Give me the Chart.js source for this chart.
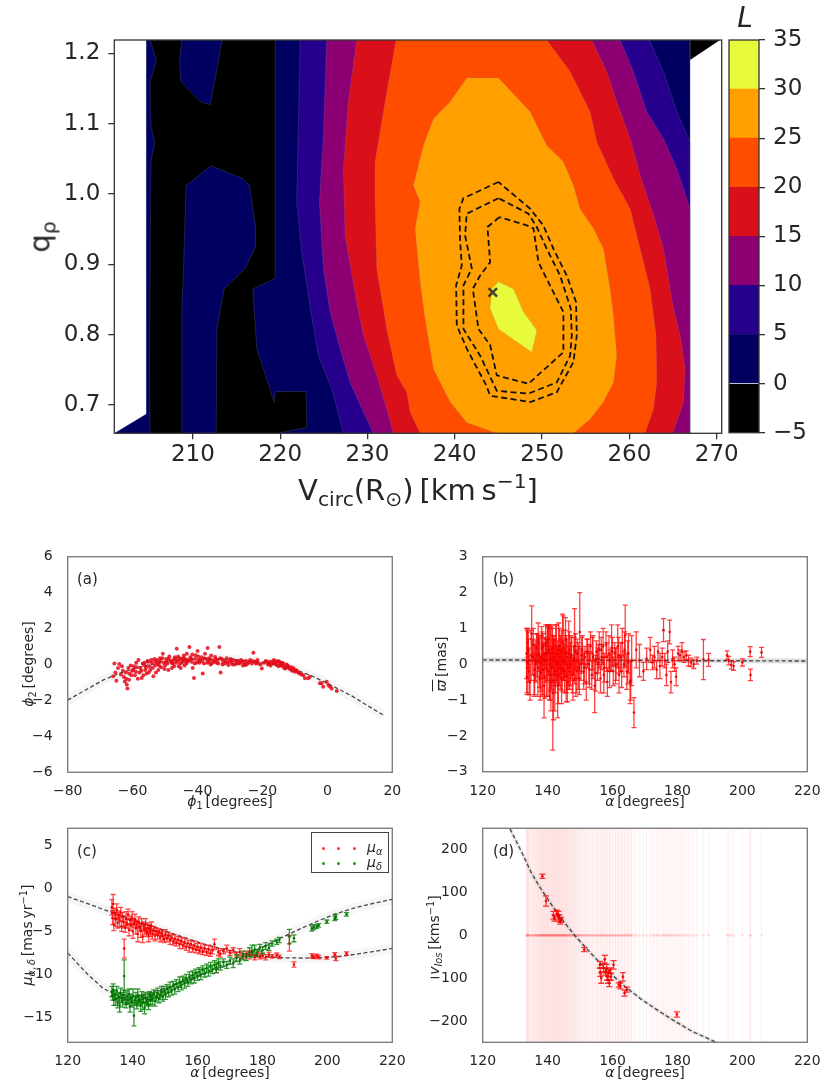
<!DOCTYPE html>
<html>
<head>
<meta charset="utf-8">
<script src="https://cdn.jsdelivr.net/npm/chart.js@4.4.0/dist/chart.umd.min.js"></script>
<style>
body { margin: 0; background: #fff; }
#page { position: relative; width: 821px; height: 1084px; font-family: "DejaVu Sans", sans-serif; color: #262626; overflow: hidden; }
canvas { position: absolute; }
.lbl { position: absolute; white-space: nowrap; line-height: 1; transform: translate(-50%, -50%); }
.rot { transform: translate(-50%, -50%) rotate(-90deg); }
.lbl sub { font-size: 0.7em; vertical-align: -0.3em; line-height: 0; }
.lbl sup { font-size: 0.7em; vertical-align: 0.55em; line-height: 0; }
.tag { position: absolute; font-size: 15px; line-height: 1; }
#legC { position: absolute; left: 311px; top: 832px; width: 78px; height: 41px; border: 1.3px solid #444; box-sizing: border-box; background: #fff; }
#legC .dot { position: absolute; width: 3px; height: 3px; border-radius: 50%; }
#legC .txt { position: absolute; left: 55px; font-size: 14px; line-height: 1; }
</style>
</head>
<body>
<div id="page">
  <canvas id="top" width="821" height="475" style="left:0;top:0"></canvas>
  <canvas id="cbar" width="106" height="475" style="left:715px;top:0"></canvas>
  <canvas id="pa" width="405" height="290" style="left:0;top:520px"></canvas>
  <canvas id="pb" width="401" height="290" style="left:420px;top:520px"></canvas>
  <canvas id="pc" width="405" height="284" style="left:0;top:800px"></canvas>
  <canvas id="pd" width="401" height="284" style="left:420px;top:800px"></canvas>

  <div class="lbl" style="left:745px;top:18px;font-size:28px;font-style:italic">L</div>
  <div class="lbl" style="left:418px;top:490px;font-size:29px">V<sub>circ</sub>(R<sub>⊙</sub>)&#8201;[km&#8201;s<sup>−1</sup>]</div>
  <div class="lbl rot" style="left:40px;top:237px;font-size:29px">q<sub>ρ</sub></div>

  <div class="tag" style="left:77px;top:572px">(a)</div>
  <div class="tag" style="left:493px;top:572px">(b)</div>
  <div class="tag" style="left:77px;top:844px">(c)</div>
  <div class="tag" style="left:493px;top:844px">(d)</div>

  <div class="lbl" style="left:230px;top:801px;font-size:14px"><i>ϕ</i><sub>1</sub>&#8201;[degrees]</div>
  <div class="lbl rot" style="left:28px;top:664px;font-size:14px"><i>ϕ</i><sub>2</sub>&#8201;[degrees]</div>
  <div class="lbl" style="left:645px;top:801px;font-size:14px"><i>α</i>&#8201;[degrees]</div>
  <div class="lbl rot" style="left:441px;top:664px;font-size:14px"><span style="text-decoration:overline"><i>ϖ</i></span>&#8201;[mas]</div>
  <div class="lbl" style="left:230px;top:1072px;font-size:14px"><i>α</i>&#8201;[degrees]</div>
  <div class="lbl rot" style="left:27px;top:935px;font-size:14px"><i>μ</i><sub><i>α</i>,&#8201;<i>δ</i></sub>&#8201;[mas&#8201;yr<sup>−1</sup>]</div>
  <div class="lbl" style="left:645px;top:1072px;font-size:14px"><i>α</i>&#8201;[degrees]</div>
  <div class="lbl rot" style="left:434px;top:935px;font-size:14px"><i>v</i><sub><i>los</i></sub>&#8201;[kms<sup>−1</sup>]</div>

  <div id="legC">
    <span class="dot" style="left:10px;top:14px;background:#f33"></span>
    <span class="dot" style="left:25px;top:14px;background:#f33"></span>
    <span class="dot" style="left:41px;top:14px;background:#f33"></span>
    <span class="txt" style="top:7px"><i>μ</i><sub style="font-size:0.7em;vertical-align:-0.3em"><i>α</i></sub></span>
    <span class="dot" style="left:10px;top:29px;background:#1a941a"></span>
    <span class="dot" style="left:25px;top:29px;background:#1a941a"></span>
    <span class="dot" style="left:41px;top:29px;background:#1a941a"></span>
    <span class="txt" style="top:22px"><i>μ</i><sub style="font-size:0.7em;vertical-align:-0.3em"><i>δ</i></sub></span>
  </div>
</div>

<script>
// ---- top panel: likelihood L over (Vcirc, q_rho), contour regions in data units
const levels = [-5, 0, 5, 10, 15, 20, 25, 30, 35];
const levelColors = ['#000000', '#000060', '#26008c', '#8c0073', '#d90f1a', '#ff4d00', '#ffa000', '#e8fa3c'];

const regionData = [[201.0, 0.6596], [204.65, 0.687], [204.65, 1.219], [266.95, 1.219], [266.95, 0.6596]];
const regionBlack = [[205.11, 1.219], [219.42, 1.219], [219.42, 0.880], [216.87, 0.865], [217.32, 0.780], [219.31, 0.704],
  [219.42, 0.719], [222.97, 0.719], [223.05, 0.668], [219.61, 0.6596], [205.11, 0.6596], [205.03, 0.751], [205.19, 1.046],
  [205.61, 1.072], [205.19, 1.098], [205.11, 1.160], [205.80, 1.190]];
const regionBlackCorner = [[266.95, 1.219], [266.95, 1.1905], [270.38, 1.219]];
const islandTop = [[208.74, 1.219], [208.47, 1.190], [208.62, 1.160], [210.91, 1.131], [211.98, 1.127], [212.82, 1.181], [213.32, 1.219]];
const islandMid = [[209.23, 1.012], [212.06, 1.040], [215.72, 1.022], [216.48, 1.012], [217.17, 0.953], [217.17, 0.925], [215.99, 0.894],
  [213.58, 0.865], [212.74, 0.808], [212.67, 0.6596], [208.74, 0.6596], [208.74, 0.837], [208.93, 0.894]];
const regionL5 = [[222.29, 1.219], [222.09, 1.098], [221.90, 0.989], [222.48, 0.917], [223.35, 0.846], [224.38, 0.770], [225.91, 0.723],
  [227.25, 0.6596], [266.95, 0.6596], [266.95, 1.074], [265.42, 1.117], [263.89, 1.174], [262.29, 1.219]];
const regionL10 = [[225.34, 1.219], [224.96, 1.084], [224.50, 0.989], [224.96, 0.894], [225.72, 0.832], [226.87, 0.780], [228.01, 0.732],
  [229.54, 0.690], [230.68, 0.6596], [266.95, 0.6596], [266.95, 0.979], [265.42, 1.036], [263.89, 1.079], [261.98, 1.117],
  [260.46, 1.174], [258.93, 1.219]];
const regionL15 = [[228.77, 1.219], [227.82, 1.131], [227.25, 1.036], [227.44, 0.941], [228.77, 0.846], [229.54, 0.799], [231.06, 0.742],
  [232.21, 0.694], [232.97, 0.6596], [264.96, 0.6596], [266.18, 0.704], [266.37, 0.751], [265.80, 0.799], [265.04, 0.837],
  [263.89, 0.922], [262.75, 0.970], [261.22, 1.027], [260.08, 1.079], [258.55, 1.131], [257.40, 1.174], [255.69, 1.219]];
const regionL20 = [[233.28, 1.219], [232.02, 1.131], [230.87, 1.046], [230.87, 0.989], [231.06, 0.894], [232.21, 0.808], [233.35, 0.742],
  [234.50, 0.718], [234.88, 0.690], [236.03, 0.6596], [261.79, 0.6596], [262.75, 0.694], [263.13, 0.732], [263.05, 0.799],
  [262.37, 0.865], [261.22, 0.922], [260.08, 0.979], [258.17, 1.022], [256.26, 1.074], [255.50, 1.117], [253.21, 1.174], [250.53, 1.219]];
const regionL25 = [[241.37, 1.165], [245.00, 1.165], [248.63, 1.117], [250.53, 1.069], [252.44, 1.046], [253.59, 1.012], [254.35, 0.979],
  [255.88, 0.951], [257.02, 0.922], [257.79, 0.865], [258.17, 0.827], [258.55, 0.770], [258.17, 0.732], [257.02, 0.704],
  [255.50, 0.680], [253.59, 0.6596], [244.81, 0.6596], [241.37, 0.675], [239.47, 0.704], [237.56, 0.751], [236.60, 0.823],
  [236.03, 0.875], [235.46, 0.951], [236.03, 0.989], [235.27, 1.012], [236.41, 1.069], [237.56, 1.107], [239.47, 1.131]];
const regionL30 = [[245.00, 0.875], [246.72, 0.865], [247.86, 0.832], [249.39, 0.806], [248.82, 0.775], [245.00, 0.808], [244.05, 0.837], [244.24, 0.865]];

const contourOuter = [[245.00, 1.017], [240.99, 0.994], [240.53, 0.979], [240.61, 0.932], [240.80, 0.898], [240.15, 0.870], [240.23, 0.813],
  [241.37, 0.780], [243.59, 0.728], [244.05, 0.713], [248.63, 0.704], [251.68, 0.718], [253.59, 0.761], [253.97, 0.799],
  [253.89, 0.846], [252.82, 0.884], [251.30, 0.922], [250.15, 0.955], [248.63, 0.979], [245.00, 1.017]];
const contourMiddle = [[245.00, 0.994], [241.37, 0.972], [241.18, 0.941], [241.95, 0.894], [240.99, 0.870], [240.99, 0.808], [242.90, 0.770],
  [244.81, 0.720], [248.43, 0.716], [251.68, 0.732], [253.21, 0.770], [253.40, 0.799], [253.28, 0.837], [252.06, 0.884],
  [250.53, 0.922], [249.39, 0.953], [248.43, 0.972], [245.00, 0.994]];
const contourInner = [[245.11, 0.967], [243.74, 0.953], [244.05, 0.903], [242.90, 0.884], [242.06, 0.865], [242.71, 0.808], [244.05, 0.785],
  [244.81, 0.742], [248.43, 0.730], [252.44, 0.775], [252.44, 0.832], [251.30, 0.860], [250.34, 0.884], [249.58, 0.903],
  [249.01, 0.951], [248.32, 0.955], [245.11, 0.967]];
const bestFit = [244.35, 0.86];

const topXTicks = [210, 220, 230, 240, 250, 260, 270];
const topYTicks = [0.7, 0.8, 0.9, 1.0, 1.1, 1.2];

// ---- (a) stream track
const aPhi1 = [-66.0,-65.6,-65.3,-65.0,-64.5,-64.1,-63.6,-63.0,-62.7,-62.4,-62.0,-61.8,-61.6,-61.3,-61.0,-60.6,-60.2,-59.8,-59.3,-58.9,
  -58.7,-58.2,-57.9,-57.6,-57.2,-56.9,-56.5,-56.1,-55.7,-55.4,-55.2,-54.8,-54.6,-54.1,-53.6,-53.3,-53.1,-52.6,-52.3,-52.1,
  -51.8,-51.6,-51.2,-50.7,-50.4,-50.0,-49.7,-49.5,-49.0,-48.7,-48.3,-47.9,-47.6,-47.4,-47.0,-46.6,-46.4,-46.0,-45.8,-45.4,
  -45.0,-44.6,-44.4,-44.0,-43.6,-43.3,-43.0,-42.5,-42.2,-41.8,-41.5,-41.1,-40.8,-40.6,-40.3,-40.0,-39.6,-39.2,-38.8,-38.4,
  -38.0,-37.7,-37.3,-36.9,-36.6,-36.4,-36.0,-35.6,-35.2,-34.6,-34.2,-33.8,-33.3,-32.9,-32.5,-32.1,-31.6,-31.0,-30.5,-30.1,
  -29.5,-29.0,-28.5,-28.0,-27.5,-27.0,-26.4,-26.0,-25.4,-25.0,-24.4,-23.8,-23.3,-22.8,-22.4,-21.8,-21.2,-20.6,-20.2,-19.5,
  -18.7,-18.0,-17.5,-17.2,-16.8,-16.4,-16.0,-15.6,-15.2,-14.8,-14.4,-14.0,-13.8,-13.4,-13.1,-12.6,-12.0,-11.5,-11.0,-10.5,
  -10.0,-9.4,-8.6,-8.0,-6.9,-5.9,-5.4,-2.3,-1.8,-1.3,-0.2,0.3,0.8,1.3,2.9,
  -63.3,-62.1,-61.1,-60.4,-59.6,-59.0,-58.4,-57.3,-56.7,-56.3,-55.9,-55.0,-54.3,-53.8,-53.0,-52.8,-51.9,-51.4,-50.9,-50.2,
  -49.3,-48.9,-48.0,-47.2,-46.8,-46.2,-45.6,-45.2,-44.8,-44.2,-43.8,-43.4,-42.8,-42.0,-41.6,-40.9,-39.8,-39.4,-38.6,-37.9,
  -37.0,-36.2,-35.8,-34.9,-34.4,-33.6,-33.0,-32.3,-31.3,-30.8,-29.8,-29.2,-28.2,-27.2,-26.6,-25.7,-24.8,-24.0,-23.0,-22.0,
  -21.5,-19.0,-18.3,-17.8,-16.6,-15.8,-15.0,-14.6,-14.2,-13.6,-12.8,-12.3,-11.8,-11.2,-10.8,-9.8,-9.0,-7.4];
const aPhi2 = [-0.65,0.05,-0.45,-0.9,-0.2,0.03,-0.55,-0.35,-0.7,-0.95,-0.8,-1.12,-1.33,-0.2,-0.5,-0.05,-0.35,-0.3,-0.6,0.1,
  -0.15,0.25,-0.45,-0.2,-0.75,0.05,-0.03,-0.3,-0.5,0.2,0.15,-0.1,-0.3,0.1,-0.65,0.3,-0.05,0.25,0.05,-0.3,
  0.15,0.35,-0.15,0.6,0.1,-0.05,0.3,0.15,-0.3,0.45,0.2,-0.2,0.05,0.25,0.4,0.1,0.88,0.45,-0.1,0.05,
  0.3,0.2,0.35,-0.05,0.15,0.6,0.25,0.98,0.4,0.15,-0.2,-0.75,0.3,0.52,0.1,0.75,0.2,0.25,0.4,-0.5,
  0.05,0.6,0.3,0.92,0.15,0.35,0.0,0.05,0.2,0.42,0.1,0.25,0.98,-0.45,0.3,0.15,0.05,0.35,-0.03,0.2,
  0.1,0.25,0.0,0.05,0.2,0.1,0.15,-0.05,-0.03,0.2,0.1,0.25,0.05,0.66,0.15,0.15,0.05,0.0,-0.22,0.1,
  0.15,0.05,-0.05,0.05,0.2,0.25,0.1,-0.03,0.2,0.15,0.0,0.1,-0.03,-0.15,-0.22,0.0,-0.12,-0.25,-0.31,-0.2,
  -0.4,-0.35,-0.49,-0.55,-0.77,-0.77,-0.68,-1.05,-1.05,-1.24,-0.96,-1.14,-1.23,-1.33,-1.48,
  -0.1,-0.45,-0.85,-0.6,-0.1,-0.4,-0.8,-0.35,-0.6,0.1,-0.15,-0.45,0.25,-0.2,0.15,-0.45,-0.05,0.2,0.35,-0.25,
  0.05,0.3,0.1,-0.1,0.3,0.2,0.35,-0.2,0.1,0.5,0.3,0.05,0.2,0.3,0.55,0.05,0.45,0.1,0.2,0.35,
  0.1,0.25,0.5,0.15,0.3,0.05,0.35,0.0,0.2,0.1,0.3,0.0,0.2,0.05,0.25,0.1,0.0,0.15,0.2,0.05,
  0.25,0.2,0.0,0.15,0.05,0.15,-0.1,0.1,-0.05,0.05,-0.2,-0.05,-0.2,-0.15,-0.35,-0.3,-0.45,-0.6];
const aModelX = [-80, -74, -69, -64, -60, -55, -50, -45, -40, -35, -30, -25, -20, -15, -12.5, -10, -5, 0, 4, 8, 12, 17.2];
const aModelY = [-1.98, -1.37, -0.86, -0.49, -0.25, -0.02, 0.13, 0.24, 0.30, 0.31, 0.28, 0.22, 0.10, -0.05, -0.14, -0.28, -0.62, -1.05, -1.42, -1.8, -2.25, -2.81];

// ---- (b) parallax
const bAlpha = [133.5,133.7,134.0,134.3,135.1,135.4,135.8,136.2,136.6,137.0,137.3,137.7,138.0,138.3,138.6,138.9,139.2,139.5,139.9,140.1,
  140.4,140.7,141.0,141.3,141.6,141.9,142.2,142.5,142.8,143.1,143.4,143.7,144.0,144.3,144.6,144.9,145.2,145.5,145.8,146.1,
  146.5,146.8,147.2,147.6,148.0,148.3,148.7,149.1,149.5,149.9,150.3,150.7,151.1,151.5,151.9,152.3,152.7,153.2,153.6,154.0,
  154.5,155.0,155.4,155.9,156.3,156.7,157.1,157.5,158.0,158.4,158.9,159.3,159.7,160.2,160.7,161.1,161.6,162.0,162.5,163.0,
  163.5,163.9,164.4,164.9,165.4,165.9,166.6,167.3,168.3,169.5,170.5,171.6,172.3,172.9,173.6,174.0,174.6,175.3,175.7,176.1,
  176.6,177.0,177.6,178.0,178.5,179.1,179.6,180.2,180.8,181.4,182.0,182.7,183.4,184.2,185.0,186.0,188.0,189.6,195.3,195.8,
  196.6,197.3,200.0,202.4,202.5,205.9,
  133.6,133.9,134.1,134.6,134.9,135.6,136.0,136.4,136.8,137.1,137.5,137.9,138.2,138.5,138.8,139.1,139.4,139.7,140.0,140.3,
  140.6,140.9,141.2,141.5,141.8,142.0,142.4,142.7,143.0,143.3,143.6,143.9,144.2,144.5,144.8,145.1,145.4,145.7,146.0,146.3,
  146.7,147.0,147.4,147.8,148.2,148.6,149.0,149.4,149.8,150.5,151.3,152.1,152.9,153.8,154.8,155.6,156.5,157.3,158.2,159.1,
  160.0,160.9,161.9,162.8,163.7,164.7,165.6];
const bPlx = [0.3,0.05,0.4,-0.2,0.85,0.2,-0.3,0.1,0.45,-0.1,0.3,-0.4,0.2,0.0,0.5,-0.6,0.3,0.1,0.6,-0.2,
  0.4,0.0,-0.5,0.3,-0.8,0.2,-0.3,0.5,0.0,-0.6,0.4,-0.1,0.2,-0.4,0.6,0.1,-0.2,0.7,0.0,-0.5,
  0.3,-0.2,0.2,-0.3,0.1,0.5,-0.4,0.3,-0.1,0.9,0.0,0.4,-0.2,0.2,-0.5,0.3,0.0,0.5,-0.3,0.2,
  -0.6,0.35,0.0,0.4,-0.4,0.2,0.5,-0.1,0.55,-0.5,0.3,0.1,0.45,-0.2,0.3,0.0,0.5,-0.3,0.2,0.6,
  0.0,0.8,-0.2,0.3,-0.5,0.1,-1.35,0.4,0.1,-0.2,0.15,0.4,0.05,0.2,-0.15,0.35,-0.05,0.2,0.95,0.1,
  -0.3,0.35,0.9,-0.5,0.15,0.0,-0.35,0.3,0.25,0.35,0.2,0.25,0.1,0.05,0.0,0.1,0.13,0.12,0.25,0.1,
  -0.02,-0.05,0.05,0.35,-0.3,0.33,
  -0.35,0.6,0.1,-0.5,0.25,0.55,-0.15,0.0,0.25,0.6,0.05,-0.25,0.45,-0.15,0.1,-0.35,0.55,-0.1,0.3,0.7,
  -0.3,0.15,-0.1,0.45,-0.45,0.1,-0.2,0.3,0.05,-0.3,0.5,0.0,0.35,-0.15,0.45,0.05,0.3,-0.35,0.2,-0.1,
  0.4,0.0,0.25,-0.45,0.15,0.35,-0.2,0.1,-0.4,0.25,-0.1,0.35,-0.15,0.3,-0.25,0.15,0.4,-0.3,0.2,-0.2,
  0.35,-0.05,0.25,-0.2,0.4,0.05,-0.45];
const bErr = [0.7,0.9,0.5,0.65,0.78,0.5,0.6,0.55,0.4,0.8,0.5,0.6,0.6,0.9,0.35,0.9,0.45,0.6,0.5,0.7,
  0.7,1.0,0.8,0.8,1.6,0.5,1.0,0.6,0.45,0.9,0.75,0.5,0.6,0.7,0.8,0.55,0.6,0.6,0.8,0.55,
  0.9,0.5,0.6,0.5,0.4,1.05,0.5,0.4,0.6,1.1,0.45,0.4,0.5,0.3,0.5,0.4,0.55,0.4,0.4,0.6,
  0.75,0.3,0.45,0.5,0.4,0.35,0.5,0.4,0.35,0.4,0.5,0.3,0.65,0.4,0.3,0.45,0.6,0.5,0.4,0.4,
  0.35,0.85,0.5,0.55,0.6,0.7,0.42,0.5,0.45,0.25,0.3,0.35,0.2,0.3,0.25,0.25,0.35,0.25,0.32,0.2,
  0.3,0.3,0.33,0.3,0.25,0.2,0.25,0.2,0.15,0.25,0.15,0.12,0.15,0.12,0.12,0.1,0.56,0.18,0.12,0.12,
  0.12,0.12,0.1,0.14,0.16,0.14,
  0.45,0.4,0.6,0.5,0.7,0.45,0.7,0.5,0.6,0.55,0.7,0.5,0.6,0.7,0.5,0.6,0.55,0.8,0.75,0.4,
  0.7,0.9,0.6,0.55,1.1,0.7,0.6,0.8,0.6,0.8,0.5,0.7,0.6,0.6,0.9,0.5,0.65,0.7,0.5,0.6,
  0.5,0.6,0.5,0.55,0.6,0.5,0.6,0.5,0.45,0.5,0.45,0.35,0.5,0.45,0.5,0.4,0.35,0.5,0.4,0.45,
  0.4,0.5,0.5,0.45,0.5,0.6,0.55];
const bModelX = [120, 140, 160, 180, 200, 220];
const bModelY = [0.12, 0.115, 0.11, 0.10, 0.095, 0.09];

// ---- (c) proper motions
const cAlpha = [133.6,133.8,134.0,134.2,134.5,134.8,135.1,135.4,135.7,136.0,136.3,136.6,136.9,137.2,137.4,137.7,138.0,138.3,138.6,138.9,
  139.2,139.5,139.8,140.1,140.4,140.7,141.0,141.3,141.6,141.9,142.2,142.5,142.8,143.1,143.4,143.7,144.0,144.3,144.6,144.9,
  145.2,145.5,145.8,146.1,146.5,146.9,147.3,147.7,148.1,148.5,148.9,149.3,149.7,150.1,150.6,151.0,151.5,152.0,152.5,153.0,
  153.5,154.0,154.5,155.0,155.5,156.0,156.5,157.0,157.5,158.0,158.5,159.0,159.5,160.0,160.5,161.0,161.6,162.2,162.8,163.4,
  164.0,164.6,165.2,165.8,166.4,167.0,168.0,169.0,170.0,171.0,172.0,173.0,174.0,175.0,176.0,176.8,177.6,178.4,179.2,180.0,
  181.0,182.0,183.0,184.4,185.2,188.3,189.7,195.2,195.8,196.7,197.3,199.8,202.3,202.6,205.9];
const cMuA = [-2.2,-3.4,-1.8,-4.2,-2.9,-3.6,-2.5,-4.0,-3.1,-3.8,-2.8,-4.4,-3.3,-3.9,-7.0,-4.5,-3.5,-4.1,-3.0,-4.8,
  -3.7,-4.3,-3.4,-5.0,-4.0,-3.6,-4.6,-4.2,-5.3,-3.9,-4.5,-4.9,-4.1,-5.6,-4.4,-4.8,-4.2,-5.1,-4.6,-5.4,
  -4.7,-5.0,-4.4,-5.3,-4.9,-5.5,-5.0,-5.4,-5.1,-5.7,-5.2,-5.5,-5.9,-5.3,-5.8,-5.5,-6.0,-5.7,-6.2,-5.9,
  -6.3,-6.0,-6.5,-6.1,-6.6,-6.3,-6.8,-6.4,-6.9,-6.5,-7.0,-6.6,-7.1,-6.8,-7.2,-6.9,-7.3,-7.0,-7.4,-7.1,
  -7.5,-7.2,-6.5,-9.3,-7.4,-7.6,-7.3,-7.0,-7.5,-7.2,-7.7,-7.4,-7.9,-7.6,-7.8,-7.5,-8.0,-7.7,-7.9,-7.8,
  -8.0,-7.7,-7.9,-7.76,-7.96,-6.4,-8.85,-7.84,-7.96,-7.84,-8.0,-8.07,-7.68,-8.15,-7.57];
const cErrA = [0.9,0.8,1.1,0.7,0.6,0.8,0.7,0.6,0.5,0.7,0.6,0.6,0.5,0.7,1.1,0.6,0.8,0.5,0.6,0.7,
  0.5,0.6,0.7,0.8,0.5,0.6,0.7,0.5,0.9,0.6,0.5,0.8,0.6,0.7,0.5,0.6,0.7,0.5,0.6,0.8,
  0.5,0.6,0.5,0.6,0.5,0.6,0.4,0.5,0.4,0.5,0.4,0.5,0.4,0.5,0.4,0.4,0.5,0.4,0.4,0.5,
  0.4,0.4,0.5,0.4,0.4,0.5,0.4,0.4,0.5,0.4,0.4,0.5,0.4,0.4,0.4,0.5,0.4,0.4,0.4,0.5,
  0.4,0.4,0.6,0.5,0.4,0.4,0.3,0.4,0.3,0.3,0.3,0.4,0.3,0.3,0.4,0.3,0.3,0.3,0.3,0.3,
  0.3,0.3,0.2,0.25,0.2,0.9,0.3,0.25,0.2,0.2,0.2,0.15,0.2,0.25,0.2];
const cMuD = [-12.0,-12.5,-11.8,-13.0,-12.3,-12.9,-11.9,-13.3,-12.6,-13.6,-12.2,-12.8,-13.1,-12.4,-10.2,-12.9,-13.4,-12.6,-13.0,-12.3,
  -13.7,-12.8,-13.2,-12.5,-14.8,-13.0,-12.7,-13.5,-12.4,-13.1,-12.9,-13.6,-12.6,-13.3,-12.8,-13.9,-12.7,-13.2,-12.9,-13.5,
  -12.5,-13.0,-12.6,-12.9,-12.3,-13.1,-12.6,-12.2,-12.8,-12.4,-12.0,-12.6,-11.9,-12.3,-11.7,-12.1,-11.5,-11.9,-11.3,-11.7,
  -11.1,-11.5,-10.9,-11.3,-10.7,-11.0,-10.5,-10.9,-10.3,-10.6,-10.1,-10.4,-9.9,-10.2,-9.7,-10.0,-9.5,-9.8,-9.3,-9.6,
  -9.1,-9.4,-8.9,-9.2,-8.7,-9.0,-8.6,-8.9,-8.4,-8.7,-8.1,-8.4,-7.8,-8.0,-7.4,-7.3,-7.1,-7.5,-6.9,-7.2,
  -6.7,-6.9,-6.4,-6.2,-6.0,-5.6,-5.8,-4.65,-4.5,-4.45,-4.3,-3.87,-3.48,-3.29,-3.02];
const cErrD = [0.6,0.5,0.7,0.6,0.5,0.7,0.5,0.6,0.5,0.8,0.6,0.5,0.7,0.6,1.9,0.6,0.5,0.7,0.5,0.6,
  0.7,0.5,0.6,0.8,1.2,0.5,0.6,0.5,0.7,0.6,0.5,0.7,0.6,0.8,0.5,0.7,0.6,0.5,0.6,0.6,
  0.5,0.7,0.5,0.6,0.5,0.6,0.5,0.6,0.5,0.5,0.6,0.5,0.5,0.6,0.5,0.5,0.6,0.5,0.5,0.6,
  0.5,0.5,0.6,0.5,0.5,0.6,0.5,0.5,0.6,0.5,0.5,0.6,0.5,0.5,0.5,0.6,0.5,0.5,0.5,0.6,
  0.5,0.5,0.5,0.6,0.5,0.5,0.4,0.4,0.4,0.5,0.4,0.4,0.5,0.4,0.5,0.7,0.5,0.4,0.4,0.4,
  0.4,0.3,0.3,0.3,0.3,0.85,0.4,0.3,0.3,0.2,0.2,0.2,0.25,0.3,0.2];
const cModelAX = [120, 125.9, 131, 136.1, 141, 146.4, 151.5, 156.7, 161.8, 166.9, 172, 177, 182, 187.5, 193, 198, 202.9, 208, 214, 220];
const cModelAY = [-0.95, -1.73, -2.45, -3.1, -3.8, -4.45, -5.15, -5.8, -6.45, -6.98, -7.4, -7.75, -7.97, -8.07, -8.1, -8.05, -7.96, -7.7, -7.35, -6.98];
const cModelDX = [120, 125.9, 131, 136.1, 138.5, 141, 146.4, 151.5, 156.7, 161.8, 166.9, 172, 177.2, 182, 187.5, 192.5, 197.7, 203, 208, 214, 220];
const cModelDY = [-7.5, -9.9, -11.65, -12.6, -12.75, -12.7, -12.0, -11.4, -10.7, -10.0, -9.3, -8.4, -7.37, -6.45, -5.43, -4.55, -3.68, -2.9, -2.3, -1.75, -1.26];

// ---- (d) line-of-sight velocities
const dAlpha = [138.4,139.5,141.8,142.1,142.8,143.3,143.6,143.9,144.1,151.3,156.1,156.2,156.5,157.2,157.6,157.8,158.2,158.3,158.6,158.8,
  159.0,159.3,159.5,160.3,161.9,162.4,163.2,163.7,164.4,179.8];
const dVlos = [138,80,47,40,51,46,40,33,36,-33,-69,-86,-100,-76,-56,-85,-78,-95,-104,-88,
  -112,-82,-97,-69,-116,-118,-97,-135,-127,-185];
const dErr = [5,12,9,7,8,10,8,7,6,5,8,10,12,9,9,8,10,10,8,9,
  8,6,8,10,5,7,10,7,6,6];
const dNoRvSpan = bAlpha.map(() => 1000);
const dModelX = [128.4, 132.0, 135.1, 138.2, 141.3, 145.4, 148.4, 153.6, 158.7, 163.8, 169.0, 174.1, 179.2, 184.4, 191.6];
const dModelY = [248.8, 194.6, 144.2, 105.4, 70.5, 27.9, -0.8, -44.2, -84.5, -119.4, -150.4, -176, -200.8, -224, -248.8];

// ---- helpers and plugins
Chart.defaults.font.family = 'DejaVu Sans';
Chart.defaults.color = '#262626';
const minus = v => String(v).replace('-', '\u2212');
const zip = (xs, ys) => xs.map((x, i) => ({x: x, y: ys[i]}));
const pts = arr => arr.map(p => ({x: p[0], y: p[1]}));
const fixedTicks = vals => s => { s.ticks = vals.map(v => ({value: v})); };
const fitSize = (prop, size) => s => {
  s[prop] = size;
  s.paddingLeft = 0; s.paddingRight = 0; s.paddingTop = 0; s.paddingBottom = 0;
};

function clipTo(chart) {
  const a = chart.chartArea, ctx = chart.ctx;
  ctx.beginPath();
  ctx.rect(a.left, a.top, a.right - a.left, a.bottom - a.top);
  ctx.clip();
}

const polygons = {
  id: 'polygons',
  beforeDatasetDraw(chart, args) {
    const ds = chart.data.datasets[args.index];
    if (!ds.fillColor) return;
    const ctx = chart.ctx;
    ctx.save();
    clipTo(chart);
    ctx.beginPath();
    args.meta.data.forEach((p, i) => (i ? ctx.lineTo(p.x, p.y) : ctx.moveTo(p.x, p.y)));
    ctx.closePath();
    ctx.fillStyle = ds.fillColor;
    ctx.fill();
    ctx.strokeStyle = 'rgba(150,150,170,0.35)';
    ctx.lineWidth = 0.6;
    ctx.stroke();
    ctx.restore();
  }
};

const errorBars = {
  id: 'errorBars',
  beforeDatasetDraw(chart, args) {
    const ds = chart.data.datasets[args.index];
    if (!ds.errors) return;
    const ctx = chart.ctx, y = chart.scales.y, cap = ds.capHalf || 0;
    ctx.save();
    clipTo(chart);
    ctx.strokeStyle = ds.errColor;
    ctx.lineWidth = ds.errWidth || 1.2;
    args.meta.data.forEach((p, i) => {
      const v = ds.data[i].y, e = ds.errors[i];
      const t = y.getPixelForValue(v + e), b = y.getPixelForValue(v - e);
      ctx.beginPath();
      ctx.moveTo(p.x, t); ctx.lineTo(p.x, b);
      if (cap) {
        ctx.moveTo(p.x - cap, t); ctx.lineTo(p.x + cap, t);
        ctx.moveTo(p.x - cap, b); ctx.lineTo(p.x + cap, b);
      }
      ctx.stroke();
    });
    ctx.restore();
  }
};

const frame = {
  id: 'frame',
  afterDatasetsDraw(chart, args, opts) {
    const a = chart.chartArea, ctx = chart.ctx;
    ctx.save();
    ctx.strokeStyle = opts.color;
    ctx.lineWidth = opts.width;
    ctx.strokeRect(a.left, a.top, a.right - a.left, a.bottom - a.top);
    ctx.restore();
  }
};

const baseOptions = (padding, frameColor, frameWidth) => ({
  responsive: false, animation: false, events: [], devicePixelRatio: 1,
  layout: {padding: padding},
  plugins: {legend: {display: false}, tooltip: {enabled: false}, frame: {color: frameColor, width: frameWidth}}
});

const region = (arr, color) => ({data: pts(arr), fillColor: color, pointRadius: 0, showLine: false});
const dashedLoop = arr => ({data: pts(arr), showLine: true, borderColor: '#111', borderWidth: 1.8, borderDash: [6, 3.5], pointRadius: 0, fill: false});
const curve = (xs, ys, width, color, dash) => ({data: zip(xs, ys), showLine: true, borderColor: color, borderWidth: width,
  borderDash: dash || [], pointRadius: 0, fill: false});

// Chart.js paints the first dataset last, so lists are given bottom-to-top and reversed here
const stackUp = list => list.slice().reverse();

// ---- top contour panel
const topOpts = baseOptions({left: 0, top: 40, right: 99.3, bottom: 0}, '#333', 1.3);
topOpts.scales = {
  x: {type: 'linear', min: 201.0, max: 270.57, afterBuildTicks: fixedTicks(topXTicks), afterFit: fitSize('height', 41.7),
    grid: {drawOnChartArea: false, tickLength: 6, color: '#333', lineWidth: 1.3}, border: {display: false},
    ticks: {font: {size: 23}, color: '#262626', padding: 2, maxRotation: 0, autoSkip: false}},
  y: {type: 'linear', min: 0.6596, max: 1.219, afterBuildTicks: fixedTicks(topYTicks), afterFit: fitSize('width', 114.3),
    grid: {drawOnChartArea: false, tickLength: 6, color: '#333', lineWidth: 1.3}, border: {display: false},
    ticks: {font: {size: 23}, color: '#262626', padding: 8, autoSkip: false, callback: v => v.toFixed(1)}}
};
new Chart(document.getElementById('top'), {
  type: 'scatter',
  data: {datasets: stackUp([
    region(regionData, levelColors[1]),
    region(regionBlack, levelColors[0]),
    region(regionBlackCorner, levelColors[0]),
    region(islandTop, levelColors[1]),
    region(islandMid, levelColors[1]),
    region(regionL5, levelColors[2]),
    region(regionL10, levelColors[3]),
    region(regionL15, levelColors[4]),
    region(regionL20, levelColors[5]),
    region(regionL25, levelColors[6]),
    region(regionL30, levelColors[7]),
    dashedLoop(contourOuter),
    dashedLoop(contourMiddle),
    dashedLoop(contourInner),
    {data: [{x: bestFit[0], y: bestFit[1]}], pointStyle: 'crossRot', pointRadius: 6, pointBorderWidth: 2.6,
      borderColor: 'rgba(40,40,40,0.85)', backgroundColor: 'rgba(40,40,40,0.85)'}
  ])},
  options: topOpts,
  plugins: [polygons, frame]
});

// ---- colour bar
const barTicks = [-5, 0, 5, 10, 15, 20, 25, 30, 35];
const barOpts = baseOptions({left: 14, top: 40, right: 0, bottom: 42.3}, '#333', 1.3);
barOpts.scales = {
  x: {display: false},
  y: {position: 'right', min: -5, max: 35, afterBuildTicks: fixedTicks(barTicks), afterFit: fitSize('width', 62),
    grid: {drawOnChartArea: false, tickLength: 6, color: '#333', lineWidth: 1.3}, border: {display: false},
    ticks: {font: {size: 23}, color: '#262626', padding: 8, autoSkip: false, callback: minus}}
};
new Chart(document.getElementById('cbar'), {
  type: 'bar',
  data: {labels: ['L'], datasets: levelColors.map((c, i) => ({data: [[levels[i], levels[i + 1]]], backgroundColor: c,
    grouped: false, barPercentage: 1, categoryPercentage: 1, borderWidth: 0}))},
  options: barOpts,
  plugins: [frame]
});

// ---- lower panels
function panelScales(xr, xt, yr, yt, leftW, bottomH) {
  const f = {size: 14};
  return {
    x: {type: 'linear', min: xr[0], max: xr[1], afterBuildTicks: fixedTicks(xt), afterFit: fitSize('height', bottomH),
      grid: {display: false}, border: {display: false},
      ticks: {font: f, color: '#262626', padding: 3, maxRotation: 0, autoSkip: false, callback: minus}},
    y: {type: 'linear', min: yr[0], max: yr[1], afterBuildTicks: fixedTicks(yt), afterFit: fitSize('width', leftW),
      grid: {display: false}, border: {display: false},
      ticks: {font: f, color: '#262626', padding: 7, autoSkip: false, callback: minus}}
  };
}
function panel(id, padding, scales, datasets) {
  const o = baseOptions(padding, '#7f7f7f', 1.4);
  o.scales = scales;
  return new Chart(document.getElementById(id), {type: 'scatter', data: {datasets: stackUp(datasets)}, options: o,
    plugins: [errorBars, frame]});
}
const alphaTicks = [120, 140, 160, 180, 200, 220];
const dashGray = 'rgba(40,40,40,0.85)';

panel('pa', {left: 0, top: 36.7, right: 12.7, bottom: 0},
  panelScales([-80, 20], [-80, -60, -40, -20, 0, 20], [-6, 6], [-6, -4, -2, 0, 2, 4, 6], 67.7, 37.7),
  [
    curve(aModelX, aModelY, 10, 'rgba(0,0,0,0.035)'),
    curve(aModelX, aModelY, 1.3, dashGray, [4, 2.5]),
    {data: zip(aPhi1, aPhi2), pointRadius: 2, pointBorderWidth: 0, backgroundColor: 'rgba(228,10,25,0.85)'}
  ]);

panel('pb', {left: 0, top: 36.7, right: 13.7, bottom: 0},
  panelScales([120, 220], alphaTicks, [-3, 3], [-3, -2, -1, 0, 1, 2, 3], 62.7, 38.3),
  [
    curve(bModelX, bModelY, 5, 'rgba(0,0,0,0.12)'),
    curve(bModelX, bModelY, 1.4, dashGray, [4, 2.5]),
    {data: zip(bAlpha, bPlx), errors: bErr, errColor: 'rgba(255,0,0,0.75)', errWidth: 1.3, capHalf: 2.5,
      pointRadius: 1.3, pointBorderWidth: 0, backgroundColor: 'rgba(230,0,0,0.9)'}
  ]);

panel('pc', {left: 0, top: 28.3, right: 12.7, bottom: 0},
  panelScales([120, 220], alphaTicks, [-17.9, 7], [-15, -10, -5, 0, 5], 67.7, 41.7),
  [
    curve(cModelAX, cModelAY, 10, 'rgba(0,0,0,0.035)'),
    curve(cModelDX, cModelDY, 10, 'rgba(0,0,0,0.035)'),
    curve(cModelAX, cModelAY, 1.3, dashGray, [4, 2.5]),
    curve(cModelDX, cModelDY, 1.3, dashGray, [4, 2.5]),
    {data: zip(cAlpha, cMuA), errors: cErrA, errColor: 'rgba(255,0,0,0.72)', errWidth: 1.3, capHalf: 2.5,
      pointRadius: 1.3, pointBorderWidth: 0, backgroundColor: 'rgba(230,0,0,0.9)'},
    {data: zip(cAlpha, cMuD), errors: cErrD, errColor: 'rgba(0,128,0,0.8)', errWidth: 1.3, capHalf: 2.5,
      pointRadius: 1.3, pointBorderWidth: 0, backgroundColor: 'rgba(0,110,0,0.9)'}
  ]);

panel('pd', {left: 0, top: 28.3, right: 13.7, bottom: 0},
  panelScales([120, 220], alphaTicks, [-250, 250], [-200, -100, 0, 100, 200], 62.7, 41.7),
  [
    {data: zip(bAlpha, bAlpha.map(() => 0)), errors: dNoRvSpan, errColor: 'rgba(255,0,0,0.05)', errWidth: 1.3,
      pointRadius: 1.5, pointBorderWidth: 0, backgroundColor: 'rgba(255,0,0,0.1)'},
    curve(dModelX, dModelY, 4, 'rgba(0,0,0,0.08)'),
    curve(dModelX, dModelY, 1.3, dashGray, [4, 2.5]),
    {data: zip(dAlpha, dVlos), errors: dErr, errColor: 'rgba(255,0,0,0.8)', errWidth: 1.3, capHalf: 3,
      pointRadius: 1.3, pointBorderWidth: 0, backgroundColor: 'rgba(230,0,0,0.9)'}
  ]);
</script>
</body>
</html>
